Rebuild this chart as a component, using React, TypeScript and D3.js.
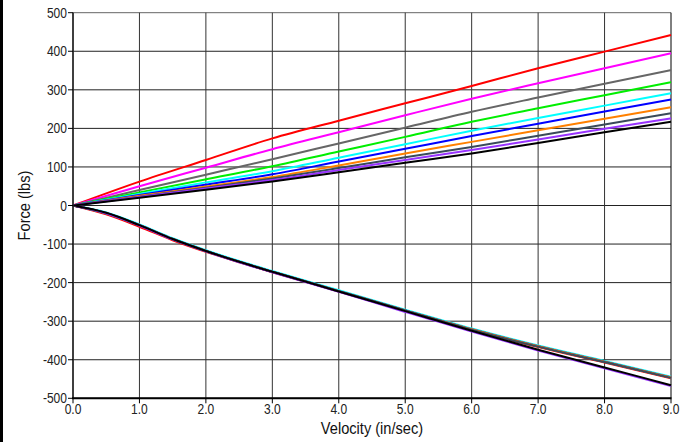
import React from "react";
import * as d3 from "d3";

const xTicks = [0, 1, 2, 3, 4, 5, 6, 7, 8, 9];
const yTicks = [500, 400, 300, 200, 100, 0, -100, -200, -300, -400, -500];

const posX = [0, 1, 2, 3, 4, 5, 6, 7, 8, 9];
const negX = [0, 0.5, 1, 1.5, 2, 2.5, 3, 4, 5, 6, 7, 8, 9];

const seriesNames = ["red", "magenta", "gray", "green", "cyan", "blue", "orange", "slate", "purple", "black"];
const seriesColors = ["#ff0000", "#ff00ff", "#666666", "#00ee00", "#00ffff", "#0000ff", "#ff8000", "#3a4a5a", "#9933ff", "#000000"];

const posRed = [0, 62, 118, 174, 220, 265, 310, 356, 399, 442];
const posMagenta = [0, 50, 98, 146, 190, 234, 277, 317, 356, 395];
const posGray = [0, 40, 80, 120, 161, 202, 243, 280, 316, 351];
const posGreen = [0, 34, 68, 102, 140, 178, 217, 252, 286, 320];
const posCyan = [0, 30, 60, 89, 124, 159, 194, 227, 259, 291];
const posBlue = [0, 27, 54, 81, 114, 147, 180, 212, 244, 275];
const posOrange = [0, 25, 49, 74, 104, 135, 165, 195, 225, 255];
const posSlate = [0, 23, 46, 70, 97, 125, 152, 181, 210, 239];
const posPurple = [0, 22, 44, 66, 92, 118, 144, 171, 199, 226];
const posBlack = [0, 20, 41, 62, 86, 111, 135, 162, 190, 217];

const negRed = [0, -23, -55, -90, -120, -147, -173, -223, -273, -322, -367, -407, -448];
const negMagenta = [0, -20, -51, -87, -118, -146, -172, -222, -272, -321, -365, -405, -446];
const negGray = [0, -20, -51, -87, -118, -146, -172, -222, -272, -321, -365, -405, -446];
const negGreen = [0, -20, -51, -87, -118, -146, -172, -222, -272, -321, -365, -405, -446];
const negCyan = [0, -18, -49, -85, -116, -144, -170, -220, -270, -319, -363, -403, -444];
const negBlue = [0, -20, -51, -87, -118, -146, -172, -222, -272, -321, -365, -405, -446];
const negOrange = [0, -20, -51, -87, -118, -146, -172, -222, -272, -321, -365, -405, -446];
const negSlate = [0, -20, -51, -87, -118, -146, -172, -222, -272, -322, -366, -406, -447];
const negPurple = [0, -20, -52, -88, -119, -147, -173, -224, -276, -327, -376, -422, -468];
const negBlack = [0, -19, -51, -87, -118, -146, -172, -223, -274, -325, -374, -420, -466];

const posSeries = [posRed, posMagenta, posGray, posGreen, posCyan, posBlue, posOrange, posSlate, posPurple, posBlack];
const negSeries = [negRed, negMagenta, negGray, negGreen, negCyan, negBlue, negOrange, negSlate, negPurple, negBlack];

const W = 693;
const H = 442;
const left = 73;
const right = 671;
const top = 12.7;
const bottom = 398.3;
const FONT = "'Liberation Sans', Arial, sans-serif";
const SX = 0.86;

export default function App() {
  const x = d3.scaleLinear().domain([0, 9]).range([left, right]);
  const y = d3.scaleLinear().domain([-500, 500]).range([bottom, top]);
  const line = d3
    .line<[number, number]>()
    .x((d) => x(d[0]))
    .y((d) => y(d[1]))
    .curve(d3.curveMonotoneX);

  return (
    <svg
      width={W}
      height={H}
      style={{ position: "absolute", left: 0, top: 0, background: "#fff" }}
      fontFamily={FONT}
    >
      <rect x={0} y={0} width={W} height={H} fill="#fff" />
      <rect x={0} y={0} width={3} height={H} fill="#000" />
      {/* grid */}
      {yTicks.map((t) => (
        <line key={"gy" + t} x1={left} x2={right} y1={y(t)} y2={y(t)} stroke={t === 500 ? "#666" : "#222"} strokeWidth={1} />
      ))}
      {xTicks.map((t) => (
        <line key={"gx" + t} x1={x(t)} x2={x(t)} y1={top} y2={bottom} stroke={t === 9 ? "#000" : "#333"} strokeWidth={1} />
      ))}
      {/* negative lines */}
      {negSeries.map((s, i) => (
        <path
          key={"n" + seriesNames[i]}
          d={line(negX.map((v, j) => [v, s[j]] as [number, number])) || ""}
          fill="none"
          stroke={seriesColors[i]}
          strokeWidth={2}
        />
      ))}
      {/* positive lines */}
      {posSeries.map((s, i) => (
        <path
          key={"p" + seriesNames[i]}
          d={line(posX.map((v, j) => [v, s[j]] as [number, number])) || ""}
          fill="none"
          stroke={seriesColors[i]}
          strokeWidth={2}
        />
      ))}
      {/* axes */}
      <line x1={left} x2={left} y1={top} y2={bottom} stroke="#222" strokeWidth={1.5} />
      <line x1={left - 1} x2={right + 0.5} y1={bottom} y2={bottom} stroke="#000" strokeWidth={2} />
      {yTicks.map((t) => (
        <g key={"yt" + t}>
          <line x1={left - 5} x2={left} y1={y(t)} y2={y(t)} stroke="#000" strokeWidth={1} />
          <text
            transform={`translate(${left - 6},${y(t)}) scale(${SX},1)`}
            dy="0.36em"
            textAnchor="end"
            fontSize={14}
            fill="#222"
          >
            {String(t)}
          </text>
        </g>
      ))}
      {xTicks.map((t) => (
        <g key={"xt" + t}>
          <line x1={x(t)} x2={x(t)} y1={bottom} y2={bottom + 5} stroke="#000" strokeWidth={1} />
          <text
            transform={`translate(${x(t)},${bottom + 16}) scale(${SX},1)`}
            textAnchor="middle"
            fontSize={14}
            fill="#222"
          >
            {t.toFixed(1)}
          </text>
        </g>
      ))}
      <text
        transform={`translate(${(left + right) / 2},${434}) scale(${SX},1)`}
        textAnchor="middle"
        fontSize={17}
        fill="#111"
      >
        Velocity (in/sec)
      </text>
      <text
        transform={`translate(30,${(top + bottom) / 2}) rotate(-90) scale(${SX},1)`}
        textAnchor="middle"
        fontSize={17}
        fill="#111"
      >
        Force (lbs)
      </text>
    </svg>
  );
}
